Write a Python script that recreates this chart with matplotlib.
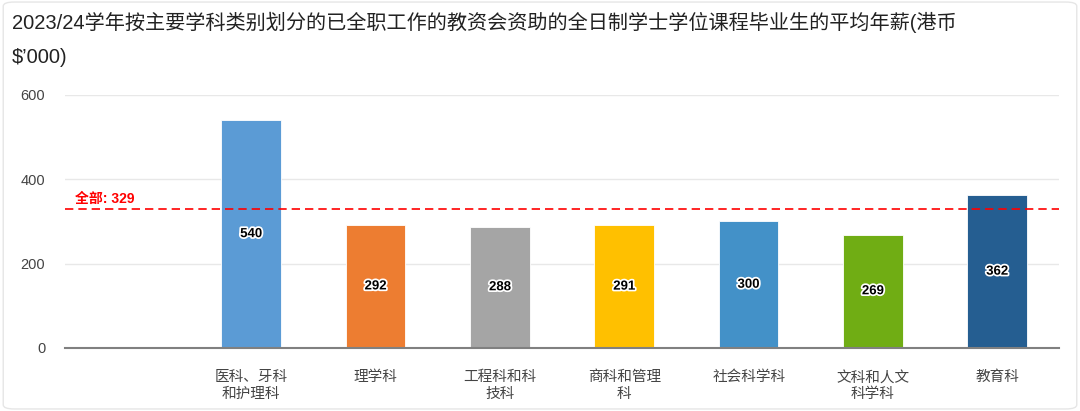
import matplotlib
matplotlib.use('Agg')
import matplotlib.pyplot as plt
import matplotlib.patheffects as pe
from matplotlib.patches import FancyBboxPatch

plt.rcParams['font.family'] = ['Liberation Sans', 'Noto Sans CJK SC', 'DejaVu Sans']

categories = ['', '医科、牙科\n和护理科', '理学科', '工程科和科\n技科', '商科和管理\n科',
              '社会科学科', '文科和人文\n科学科', '教育科']
values = [None, 540, 292, 288, 291, 300, 269, 362]
colors = [None, '#5B9BD5', '#ED7D31', '#A5A5A5', '#FFC000', '#4391C8', '#70AD14', '#255E91']
overall = 329
yticks = [0, 200, 400, 600]

fig = plt.figure(figsize=(10.8, 4.11), dpi=100)
ax = fig.add_axes([0.060, 0.1533, 0.921, 0.6156])

# card border
card = FancyBboxPatch((0.003, 0.005), 0.994, 0.99, boxstyle='round,pad=0,rounding_size=0.01',
                      transform=fig.transFigure, facecolor='none', edgecolor='#e6e6e6', lw=1.0)
fig.patches.append(card)

for i, (v, c) in enumerate(zip(values, colors)):
    if v is None:
        continue
    ax.bar(i, v, width=0.48, color=c, edgecolor='white', linewidth=0.6, zorder=2)
    ax.text(i, v / 2, str(v), ha='center', va='center', fontsize=9.5, fontweight='bold',
            color='black', zorder=3,
            path_effects=[pe.withStroke(linewidth=2.5, foreground='white')])

ax.axhline(overall, color='#ff0000', linestyle=(0, (5, 3)), linewidth=1.2, zorder=4)
ax.text(-0.42, overall + 8, f'全部: {overall}', color='#ff0000', fontsize=10,
        fontweight='bold', ha='left', va='bottom', zorder=4)

ax.set_xlim(-0.5, len(categories) - 0.5)
ax.set_ylim(0, 600)
ax.set_yticks(yticks)
ax.set_yticklabels([str(t) for t in yticks], fontsize=10.5, color='#444444')
ax.set_xticks(range(len(categories)))
ax.set_xticklabels(categories, fontsize=10.5, color='#444444', linespacing=1.25)
ax.tick_params(axis='both', length=0)
ax.tick_params(axis='x', pad=16)
ax.tick_params(axis='y', pad=14)
ax.grid(axis='y', color='#e8e8e8', linewidth=1.0, zorder=0)
ax.set_axisbelow(True)
for s in ['top', 'right', 'left']:
    ax.spines[s].set_visible(False)
ax.spines['bottom'].set_color('#808080')
ax.spines['bottom'].set_linewidth(1.5)
ax.spines['bottom'].set_zorder(5)

fig.text(0.011, 0.945, '2023/24学年按主要学科类别划分的已全职工作的教资会资助的全日制学士学位课程毕业生的平均年薪(港币',
         fontsize=14.5, color='#222222', ha='left', va='center')
fig.text(0.011, 0.86, "$’000)", fontsize=14.5, color='#222222', ha='left', va='center')

fig.savefig('out.png', dpi=100)
